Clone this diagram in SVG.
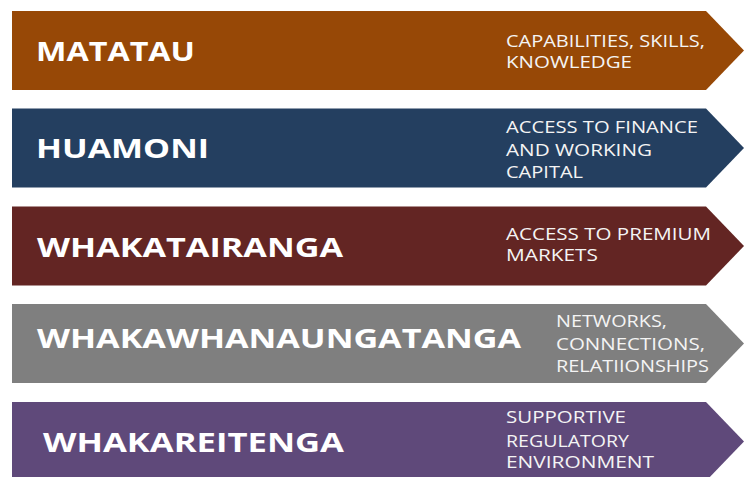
<svg xmlns="http://www.w3.org/2000/svg" width="744" height="477" viewBox="0 0 744 477">
  <style>
    .title { font-family: "Open Sans", "Liberation Sans", sans-serif; font-weight: 700; font-size: 27px; fill: #ffffff; }
    .desc { font-family: "Open Sans", "Liberation Sans", sans-serif; font-weight: 400; font-size: 16.5px; fill: #f4f4f4; }
  </style>
  <defs>
    <!-- pentagon arrow shape, 79px tall, drawn at origin and moved per row -->
    <path id="arrow" d="M12 0 H706 L744 39.5 L706 79 H12 Z"/>
  </defs>
  <rect width="744" height="477" fill="#ffffff"/>

  <g id="matatau">
    <use href="#arrow" y="11" fill="#974806"/>
    <text class="title" x="36" y="61" textLength="159" lengthAdjust="spacingAndGlyphs">MATATAU</text>
    <text class="desc" x="506" y="46.5" textLength="199" lengthAdjust="spacingAndGlyphs">CAPABILITIES, SKILLS,</text>
    <text class="desc" x="506" y="67.5" textLength="126" lengthAdjust="spacingAndGlyphs">KNOWLEDGE</text>
  </g>

  <g id="huamoni">
    <use href="#arrow" y="108.5" fill="#243F60"/>
    <text class="title" x="36" y="158" textLength="173" lengthAdjust="spacingAndGlyphs">HUAMONI</text>
    <text class="desc" x="506" y="133" textLength="192" lengthAdjust="spacingAndGlyphs">ACCESS TO FINANCE</text>
    <text class="desc" x="506" y="156" textLength="146" lengthAdjust="spacingAndGlyphs">AND WORKING</text>
    <text class="desc" x="506" y="178" textLength="77" lengthAdjust="spacingAndGlyphs">CAPITAL</text>
  </g>

  <g id="whakatairanga">
    <use href="#arrow" y="206.5" fill="#632523"/>
    <text class="title" x="37" y="256.5" textLength="306" lengthAdjust="spacingAndGlyphs">WHAKATAIRANGA</text>
    <text class="desc" x="506" y="240" textLength="205" lengthAdjust="spacingAndGlyphs">ACCESS TO PREMIUM</text>
    <text class="desc" x="506" y="261" textLength="92" lengthAdjust="spacingAndGlyphs">MARKETS</text>
  </g>

  <g id="whakawhanaungatanga">
    <use href="#arrow" y="304" fill="#7F7F7F"/>
    <text class="title" x="37" y="348" textLength="484" lengthAdjust="spacingAndGlyphs">WHAKAWHANAUNGATANGA</text>
    <text class="desc" x="556" y="327" textLength="111" lengthAdjust="spacingAndGlyphs">NETWORKS,</text>
    <text class="desc" x="556" y="350" textLength="149" lengthAdjust="spacingAndGlyphs">CONNECTIONS,</text>
    <text class="desc" x="556" y="371.5" textLength="153" lengthAdjust="spacingAndGlyphs">RELATIIONSHIPS</text>
  </g>

  <g id="whakareitenga">
    <use href="#arrow" y="402" fill="#5F497A"/>
    <text class="title" x="43" y="452" textLength="301" lengthAdjust="spacingAndGlyphs">WHAKAREITENGA</text>
    <text class="desc" x="506" y="423" textLength="120" lengthAdjust="spacingAndGlyphs">SUPPORTIVE</text>
    <text class="desc" x="506" y="446.5" textLength="123" lengthAdjust="spacingAndGlyphs">REGULATORY</text>
    <text class="desc" x="506" y="468" textLength="148" lengthAdjust="spacingAndGlyphs">ENVIRONMENT</text>
  </g>

  <g id="connectors"/>
</svg>
